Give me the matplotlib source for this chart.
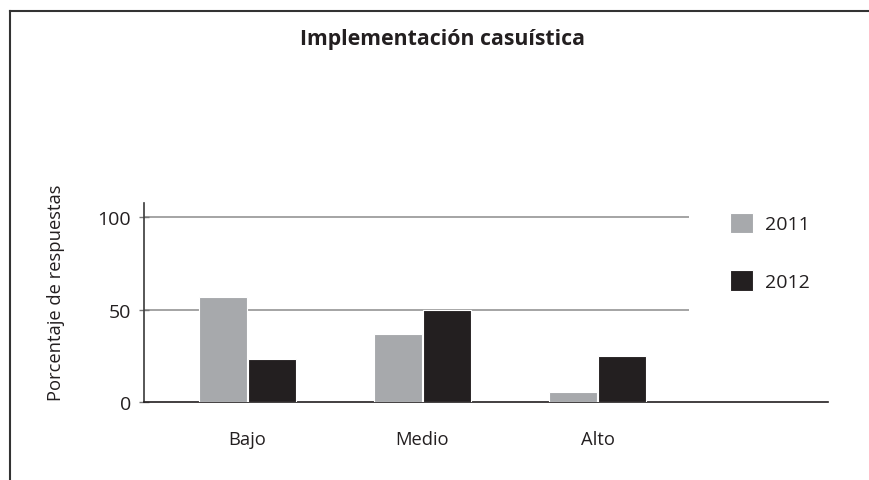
import matplotlib
matplotlib.use("Agg")
import matplotlib.pyplot as plt
from matplotlib.lines import Line2D
import numpy as np

plt.rcParams['font.family'] = ['Open Sans', 'DejaVu Sans']

categories = ["Bajo", "Medio", "Alto"]
series_names = ["2011", "2012"]
values_2011 = [57, 37, 5.5]
values_2012 = [23.5, 50, 25]
yticks = [0, 50, 100]

color_2011 = "#a7a9ac"
color_2012 = "#231f20"
grid_color = "#9d9d9d"
text_color = "#231f20"

W, H = 870, 481
fig = plt.figure(figsize=(W / 100, H / 100), dpi=100)

# axes placed in pixel units
left, right, top, bottom = 144, 828, 204, 403
ax = fig.add_axes([left / W, 1 - bottom / H, (right - left) / W, (bottom - top) / H])

x = np.arange(len(categories))
bw = 0.275
off = 0.14
ax.bar(x - off, values_2011, width=bw, color=color_2011, edgecolor="white",
       linewidth=0.8, label=series_names[0], zorder=3)
ax.bar(x + off, values_2012, width=bw, color=color_2012, edgecolor="white",
       linewidth=0.8, label=series_names[1], zorder=3)

ax.set_xlim(-0.591, 3.317)
ax.set_ylim(0, 107.6)

# horizontal reference lines stop short of the legend area
for yv in yticks[1:]:
    ax.hlines(yv, ax.get_xlim()[0], 2.523, color=grid_color, linewidth=1.3, zorder=1)

for s in ["top", "right"]:
    ax.spines[s].set_visible(False)
ax.spines["left"].set_color("#3a3a3a")
ax.spines["bottom"].set_color("#231f20")
ax.spines["left"].set_linewidth(1.2)
ax.spines["bottom"].set_linewidth(1.2)

ax.set_yticks(yticks)
ax.set_yticklabels([str(v) for v in yticks], fontsize=14, color=text_color)
ax.tick_params(axis="y", direction="inout", length=7, width=1, color="#777777", pad=6)
ax.set_xticks(x)
ax.set_xticklabels(categories, fontsize=13.2, color=text_color)
ax.tick_params(axis="x", length=0, pad=20)

ax.set_ylabel("Porcentaje de respuestas", fontsize=13.2, color=text_color)
ax.yaxis.set_label_coords(-0.1155, 0.555)

fig.text(443 / W, 1 - 39 / H, "Implementación casuística", ha="center", va="center",
         fontsize=15.3, fontweight="bold", color=text_color)

leg = ax.legend(loc="upper left", bbox_to_anchor=(716 / W, 1 - 200 / H),
                bbox_transform=fig.transFigure, frameon=False, fontsize=14,
                handlelength=1.2, handleheight=1.25, labelspacing=1.9,
                handletextpad=0.6, borderpad=0.2)
for t in leg.get_texts():
    t.set_color(text_color)

# outer frame lines along top and left
fig.add_artist(Line2D([10 / W, 1], [1 - 12 / H, 1 - 12 / H], transform=fig.transFigure,
                      color="#333333", linewidth=1.5))
fig.add_artist(Line2D([10 / W, 10 / W], [1 - 12 / H, 0], transform=fig.transFigure,
                      color="#333333", linewidth=1.5))

fig.savefig("out.png", dpi=100)
